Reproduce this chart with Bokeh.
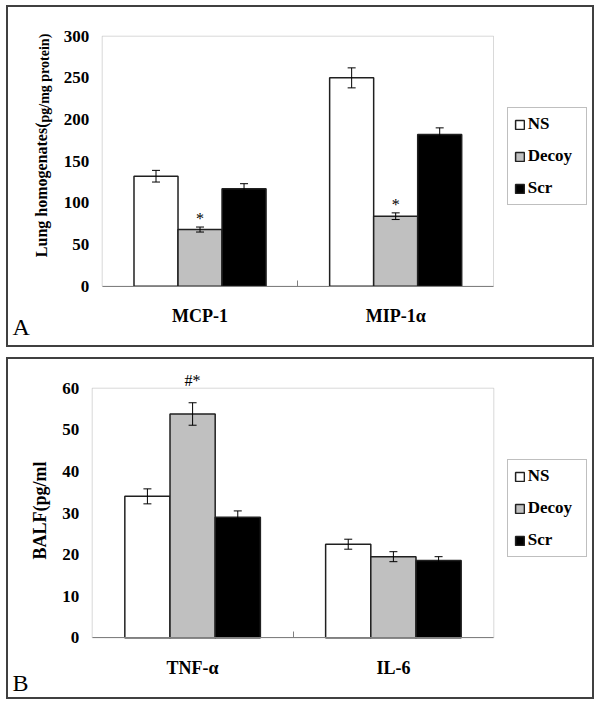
from math import pi
from bokeh.plotting import figure
from bokeh.models import (ColumnDataSource, Range1d, FixedTicker, Whisker, TeeHead,
                          Legend, LegendItem, LabelSet, Label, BoxAnnotation)
from bokeh.transform import dodge
from bokeh.layouts import column
from bokeh.embed import file_html
from bokeh.resources import INLINE
from bokeh.core.properties import value

# ---------------- data ----------------
groups = ["NS", "Decoy", "Scr"]
group_colors = ["#FFFFFF", "#C0C0C0", "#000000"]

a_cats = ["MCP-1", "MIP-1α"]
a_ns = [132, 250]
a_ns_err = [7, 12]
a_decoy = [68, 84]
a_decoy_err = [3, 4]
a_scr = [117, 182]
a_scr_err = [6, 8]
a_decoy_marks = ["*", "*"]
a_yticks = [0, 50, 100, 150, 200, 250, 300]

b_cats = ["TNF-α", "IL-6"]
b_ns = [34.0, 22.5]
b_ns_err = [1.8, 1.2]
b_decoy = [53.8, 19.5]
b_decoy_err = [2.7, 1.2]
b_scr = [29.0, 18.6]
b_scr_err = [1.5, 0.9]
b_decoy_marks = ["#*", ""]
b_yticks = [0, 10, 20, 30, 40, 50, 60]

SERIF = "Liberation Serif"
BAR_W = 0.225
OFFSETS = [-BAR_W, 0.0, BAR_W]
BORDER = 2
W, H = 584 + 2 * BORDER, 338 + 2 * BORDER   # outer (border-box) size


class Panel:
    """Figure whose frame is the whole canvas; the plot area is placed by pixels."""

    def __init__(self, cats, yticks, left_px, right_px, top_px, bottom_px, margin):
        self.n = len(cats)
        self.left_px, self.bottom_px = left_px, bottom_px
        self.ppx = (right_px - left_px) / self.n
        self.ppy = (bottom_px - top_px) / (yticks[-1] - yticks[0])
        p = figure(width=W, height=H,
                   x_range=Range1d(self.dx(0), self.dx(W)),
                   y_range=Range1d(self.dy(H), self.dy(0)),
                   output_backend="svg", toolbar_location=None, min_border=0,
                   margin=margin)
        p.styles = {"border": "%dpx solid #404040" % BORDER}
        p.xgrid.visible = False
        p.ygrid.visible = False
        p.outline_line_color = None
        p.add_layout(BoxAnnotation(left=0, right=self.n, bottom=yticks[0], top=yticks[-1],
                                   fill_color=None, fill_alpha=0, line_color="#808080",
                                   line_width=1, level="underlay"))
        xc = [i + 0.5 for i in range(self.n)]
        self.xc = xc

        yax = p.yaxis[0]
        yax.fixed_location = 0
        yax.bounds = (yticks[0], yticks[-1])
        yax.ticker = FixedTicker(ticks=yticks, minor_ticks=[])
        yax.axis_line_color = None
        yax.major_tick_line_color = None
        yax.minor_tick_line_color = None
        yax.major_tick_in = 0
        yax.major_tick_out = 0
        yax.minor_tick_in = 0
        yax.minor_tick_out = 0
        yax.major_label_standoff = 13
        yax.major_label_text_font = SERIF
        yax.major_label_text_font_style = "bold"
        yax.major_label_text_font_size = "17px"
        yax.major_label_text_color = "black"

        xax = p.xaxis[0]
        xax.fixed_location = yticks[0]
        xax.bounds = (0, self.n)
        xax.ticker = FixedTicker(ticks=xc, minor_ticks=[float(i) for i in range(1, self.n)])
        xax.major_label_overrides = {x: c for x, c in zip(xc, cats)}
        xax.axis_line_color = "#808080"
        xax.major_tick_line_color = None
        xax.major_tick_in = 0
        xax.major_tick_out = 0
        xax.minor_tick_line_color = "#808080"
        xax.minor_tick_in = 6
        xax.minor_tick_out = 0
        xax.major_label_standoff = 20
        xax.major_label_text_font = SERIF
        xax.major_label_text_font_style = "bold"
        xax.major_label_text_font_size = "18px"
        xax.major_label_text_color = "black"
        self.p = p

    # canvas pixel -> data
    def dx(self, px):
        return (px - self.left_px) / self.ppx

    def dy(self, py):
        return (self.bottom_px - py) / self.ppy

    def bars(self, vals, errs, marks, mark_offset):
        p = self.p
        items = []
        for k, g in enumerate(groups):
            src = ColumnDataSource(dict(
                x=self.xc, top=vals[k],
                upper=[v + e for v, e in zip(vals[k], errs[k])],
                lower=[v - e for v, e in zip(vals[k], errs[k])],
            ))
            r = p.vbar(x=dodge("x", OFFSETS[k]), top="top", width=BAR_W, bottom=0,
                       source=src, fill_color=group_colors[k], line_color="#202020",
                       line_width=1.5)
            items.append(LegendItem(label=g, renderers=[r]))
            p.add_layout(Whisker(source=src, base=dodge("x", OFFSETS[k]), upper="upper",
                                 lower="lower", line_color="black", line_width=1,
                                 level="overlay",
                                 upper_head=TeeHead(size=8, line_color="black", line_width=1),
                                 lower_head=TeeHead(size=8, line_color="black", line_width=1)))
            if g == "Decoy":
                msrc = ColumnDataSource(dict(
                    x=self.xc, y=[v + e for v, e in zip(vals[k], errs[k])], text=marks))
                p.add_layout(LabelSet(x=dodge("x", OFFSETS[k]), y="y", text="text",
                                      source=msrc, text_align="center",
                                      text_baseline="bottom", y_offset=mark_offset,
                                      text_font=value(SERIF), text_font_size="16px",
                                      text_color="#000000"))
        return items

    def legend(self, items, left_px, bottom_px):
        lg = Legend(items=items, location=(left_px, H - bottom_px))
        lg.border_line_color = "#808080"
        lg.border_line_width = 1
        lg.background_fill_color = "white"
        lg.background_fill_alpha = 1
        lg.label_text_font = SERIF
        lg.label_text_font_style = "bold"
        lg.label_text_font_size = "17px"
        lg.label_text_color = "black"
        lg.glyph_width = 11
        lg.glyph_height = 11
        lg.label_height = 18
        lg.label_width = 52
        lg.label_standoff = 3
        lg.spacing = 12
        lg.padding = 6
        lg.margin = 0
        self.p.add_layout(lg)

    def text(self, text, px, py, size, bold=True, angle=0.0, align="left"):
        self.p.add_layout(Label(x=self.dx(px), y=self.dy(py), text=text, angle=angle,
                                text_align=align, text_baseline="alphabetic",
                                text_font=SERIF,
                                text_font_style="bold" if bold else "normal",
                                text_font_size=size, text_color="black"))


# Panel A (canvas pixels)
A = Panel(a_cats, a_yticks, left_px=93.7, right_px=485, top_px=28.7, bottom_px=278.7,
          margin=(5, 0, 0, 6))
itemsA = A.bars([a_ns, a_decoy, a_scr], [a_ns_err, a_decoy_err, a_scr_err], a_decoy_marks, 0)
A.legend(itemsA, left_px=498.7, bottom_px=198.3)
A.text("Lung homogenates(", 33, 115, "16px", angle=pi / 2, align="right")
A.text("pg/mg protein)", 36, 115, "14px", angle=pi / 2, align="left")
A.text("A", 4, 319, "24px", bold=False)

# Panel B (canvas pixels)
B = Panel(b_cats, b_yticks, left_px=83.7, right_px=485.3, top_px=28.7, bottom_px=278.3,
          margin=(0, 0, 0, 6))
itemsB = B.bars([b_ns, b_decoy, b_scr], [b_ns_err, b_decoy_err, b_scr_err], b_decoy_marks, 14)
B.legend(itemsB, left_px=498.7, bottom_px=198.3)
B.text("BALF(pg/ml", 31, 151, "18px", angle=pi / 2, align="center")
B.text("B", 4, 323, "24px", bold=False)

layout = column(A.p, B.p, spacing=10)
open("out.html", "w").write(file_html(layout, INLINE))
